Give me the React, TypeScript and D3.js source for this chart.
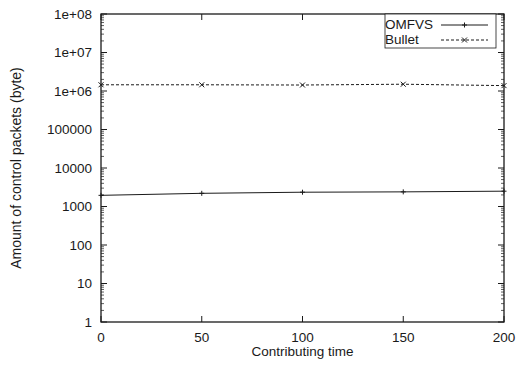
import React, { useEffect, useRef } from 'react';
import * as d3 from 'd3';

// contributing time (x) and control packet amounts (bytes, log y)
const times = [0, 50, 100, 150, 200];
const omfvs = [1950, 2200, 2350, 2400, 2500];
const bullet = [1450000, 1450000, 1430000, 1500000, 1380000];
const xTicks = [0, 50, 100, 150, 200];
const yTicks = [1, 10, 100, 1000, 10000, 100000, 1e6, 1e7, 1e8];
const yTickLabels = ['1', '10', '100', '1000', '10000', '100000', '1e+06', '1e+07', '1e+08'];

export default function App() {
  const svgRef = useRef<SVGSVGElement>(null);

  useEffect(() => {
    const svg = d3.select(svgRef.current);
    svg.selectAll('*').remove();

    const W = 516, H = 367;
    const left = 101, right = 504, top = 14, bottom = 322;
    const font = 'Liberation Sans, Arial, Helvetica, sans-serif';

    const x = d3.scaleLinear().domain([0, 200]).range([left, right]);
    const y = d3.scaleLog().domain([1, 1e8]).range([bottom, top]);

    svg.append('rect').attr('width', W).attr('height', H).attr('fill', '#fff');

    const ink = '#1a1a1a';

    // minor ticks on log axis (2..9 per decade), both sides
    const minors: number[] = [];
    for (let e = 0; e < 8; e++) for (let m = 2; m <= 9; m++) minors.push(m * Math.pow(10, e));
    minors.forEach(v => {
      const yy = y(v);
      svg.append('line').attr('x1', left).attr('x2', left + 3).attr('y1', yy).attr('y2', yy)
        .attr('stroke', ink).attr('stroke-width', 0.7);
      svg.append('line').attr('x1', right).attr('x2', right - 3).attr('y1', yy).attr('y2', yy)
        .attr('stroke', ink).attr('stroke-width', 0.7);
    });

    // major y ticks
    yTicks.forEach((v, i) => {
      const yy = y(v);
      svg.append('line').attr('x1', left).attr('x2', left + 6).attr('y1', yy).attr('y2', yy)
        .attr('stroke', ink).attr('stroke-width', 1);
      svg.append('line').attr('x1', right).attr('x2', right - 6).attr('y1', yy).attr('y2', yy)
        .attr('stroke', ink).attr('stroke-width', 1);
      svg.append('text').attr('x', 92).attr('y', yy).attr('dy', '0.36em')
        .attr('text-anchor', 'end').attr('font-family', font).attr('font-size', 13.5)
        .attr('fill', ink).text(yTickLabels[i]);
    });

    // x ticks
    xTicks.forEach(v => {
      const xx = x(v);
      svg.append('line').attr('x1', xx).attr('x2', xx).attr('y1', bottom).attr('y2', bottom - 6)
        .attr('stroke', ink).attr('stroke-width', 1);
      svg.append('line').attr('x1', xx).attr('x2', xx).attr('y1', top).attr('y2', top + 6)
        .attr('stroke', ink).attr('stroke-width', 1);
      svg.append('text').attr('x', xx).attr('y', 342)
        .attr('text-anchor', 'middle').attr('font-family', font).attr('font-size', 13.5)
        .attr('fill', ink).text(String(v));
    });

    // lines
    const line = d3.line<number>().x((_, i) => x(times[i])).y(d => y(d));

    svg.append('path').datum(omfvs).attr('d', line).attr('fill', 'none')
      .attr('stroke', ink).attr('stroke-width', 1);
    svg.append('path').datum(bullet).attr('d', line).attr('fill', 'none')
      .attr('stroke', ink).attr('stroke-width', 1).attr('stroke-dasharray', '3,2');

    const plus = (g: any, cx: number, cy: number, s = 2.5) => {
      g.append('path').attr('d', `M${cx - s},${cy}H${cx + s}M${cx},${cy - s}V${cy + s}`)
        .attr('stroke', ink).attr('stroke-width', 1).attr('fill', 'none');
    };
    const cross = (g: any, cx: number, cy: number, s = 2.5) => {
      g.append('path').attr('d', `M${cx - s},${cy - s}L${cx + s},${cy + s}M${cx - s},${cy + s}L${cx + s},${cy - s}`)
        .attr('stroke', ink).attr('stroke-width', 1).attr('fill', 'none');
    };
    omfvs.forEach((v, i) => plus(svg, x(times[i]), y(v)));
    bullet.forEach((v, i) => cross(svg, x(times[i]), y(v)));

    // frame
    svg.append('rect').attr('x', left).attr('y', top).attr('width', right - left).attr('height', bottom - top)
      .attr('fill', 'none').attr('stroke', ink).attr('stroke-width', 1.3);

    // legend
    const lg = svg.append('g');
    lg.append('rect').attr('x', 385).attr('y', top).attr('width', 111).attr('height', 34)
      .attr('fill', '#fff').attr('stroke', ink).attr('stroke-width', 0.8);
    lg.append('text').attr('x', 385).attr('y', 29).attr('font-family', font).attr('font-size', 13.5)
      .attr('fill', ink).text('OMFVS');
    lg.append('text').attr('x', 385).attr('y', 44).attr('font-family', font).attr('font-size', 13.5)
      .attr('fill', ink).text('Bullet');
    lg.append('line').attr('x1', 441).attr('x2', 488).attr('y1', 25).attr('y2', 25)
      .attr('stroke', ink).attr('stroke-width', 1);
    plus(lg, 464.5, 25);
    lg.append('line').attr('x1', 441).attr('x2', 488).attr('y1', 40).attr('y2', 40)
      .attr('stroke', ink).attr('stroke-width', 1).attr('stroke-dasharray', '3,2');
    cross(lg, 464.5, 40);

    // axis titles
    svg.append('text').attr('x', (left + right) / 2).attr('y', 356)
      .attr('text-anchor', 'middle').attr('font-family', font).attr('font-size', 13.5)
      .attr('fill', ink).text('Contributing time');
    svg.append('text').attr('transform', `translate(21,${(top + bottom) / 2}) rotate(-90)`)
      .attr('text-anchor', 'middle').attr('font-family', font).attr('font-size', 14)
      .attr('fill', ink).text('Amount of control packets (byte)');
  }, []);

  return (
    <svg ref={svgRef} width={516} height={367}
      style={{ position: 'absolute', left: 0, top: 0, display: 'block' }} />
  );
}
